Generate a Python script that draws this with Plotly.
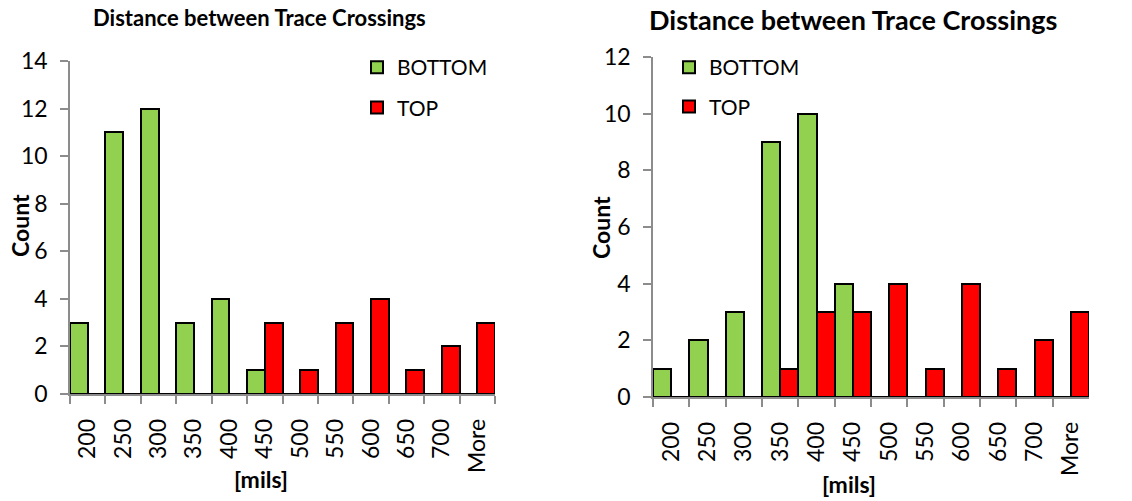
import plotly.graph_objects as go

categories = ["200", "250", "300", "350", "400", "450", "500", "550", "600", "650", "700", "More"]

left_bottom = [3, 11, 12, 3, 4, 1, 0, 0, 0, 0, 0, 0]
left_top = [0, 0, 0, 0, 0, 3, 1, 3, 4, 1, 2, 3]

right_bottom = [1, 2, 3, 9, 10, 4, 0, 0, 0, 0, 0, 0]
right_top = [0, 0, 0, 1, 3, 3, 4, 1, 4, 1, 2, 3]

left_yticks = [0, 2, 4, 6, 8, 10, 12, 14]
right_yticks = [0, 2, 4, 6, 8, 10, 12]

title_text = "Distance between Trace Crossings"
series_names = ["BOTTOM", "TOP"]
colors = ["#92D050", "#FF0000"]

W, H = 1132, 501
FONT = "Lato"
TICK = 23

def px_x(x):
    return x / W

def px_y(y):
    return 1 - y / H

fig = go.Figure()

for i, (name, vals) in enumerate(zip(series_names, [left_bottom, left_top])):
    fig.add_trace(go.Bar(
        x=categories, y=vals, name=name, xaxis="x", yaxis="y",
        marker=dict(color=colors[i], line=dict(color="black", width=2)),
        legend="legend", legendgroup="L" + name,
    ))
for i, (name, vals) in enumerate(zip(series_names, [right_bottom, right_top])):
    fig.add_trace(go.Bar(
        x=categories, y=vals, name=name, xaxis="x2", yaxis="y2",
        marker=dict(color=colors[i], line=dict(color="black", width=2)),
        legend="legend2", legendgroup="R" + name,
    ))

axis_common = dict(
    showgrid=False, zeroline=False, showline=True, linecolor="#8C8C8C", linewidth=1.5,
    ticks="outside", ticklen=8, tickcolor="#8C8C8C", tickwidth=1.5,
    tickfont=dict(family=FONT, size=TICK, color="black"), automargin=False,
)

fig.update_layout(
    width=W, height=H,
    margin=dict(l=0, r=0, t=0, b=0),
    paper_bgcolor="white", plot_bgcolor="white",
    barmode="group", bargap=0, bargroupgap=0,
    xaxis=dict(domain=[px_x(70), px_x(495)], anchor="y", type="category",
               tickson="boundaries", tickangle=-90, ticklabelstandoff=14, **axis_common),
    yaxis=dict(domain=[px_y(394), px_y(61)], anchor="x", range=[0, 14],
               tickvals=left_yticks, ticklabelstandoff=8, **axis_common),
    xaxis2=dict(domain=[px_x(653), px_x(1089)], anchor="y2", type="category",
                tickson="boundaries", tickangle=-90, ticklabelstandoff=14, **axis_common),
    yaxis2=dict(domain=[px_y(397), px_y(57)], anchor="x2", range=[0, 12],
                tickvals=right_yticks, ticklabelstandoff=8, **axis_common),
    legend=dict(x=px_x(357), y=px_y(47), xanchor="left", yanchor="top",
                font=dict(family=FONT, size=21, color="black"),
                bgcolor="rgba(0,0,0,0)", tracegroupgap=10, itemwidth=30),
    legend2=dict(x=px_x(669), y=px_y(47), xanchor="left", yanchor="top",
                 font=dict(family=FONT, size=21, color="black"),
                 bgcolor="rgba(0,0,0,0)", tracegroupgap=9, itemwidth=30),
    showlegend=True,
)

annotations = [
    dict(text="<b>" + title_text + "</b>", x=px_x(259), y=px_y(17), xref="paper", yref="paper",
         showarrow=False, font=dict(family=FONT, size=22, color="black"), xanchor="center", yanchor="middle"),
    dict(text="<b>" + title_text + "</b>", x=px_x(853), y=px_y(19), xref="paper", yref="paper",
         showarrow=False, font=dict(family=FONT, size=27, color="black"), xanchor="center", yanchor="middle"),
    dict(text="<b>Count</b>", x=px_x(20), y=px_y(226), xref="paper", yref="paper", textangle=-90,
         showarrow=False, font=dict(family=FONT, size=23, color="black"), xanchor="center", yanchor="middle"),
    dict(text="<b>Count</b>", x=px_x(601), y=px_y(228), xref="paper", yref="paper", textangle=-90,
         showarrow=False, font=dict(family=FONT, size=23, color="black"), xanchor="center", yanchor="middle"),
    dict(text="<b>[mils]</b>", x=px_x(261), y=px_y(479), xref="paper", yref="paper",
         showarrow=False, font=dict(family=FONT, size=23, color="black"), xanchor="center", yanchor="middle"),
    dict(text="<b>[mils]</b>", x=px_x(849), y=px_y(484), xref="paper", yref="paper",
         showarrow=False, font=dict(family=FONT, size=23, color="black"), xanchor="center", yanchor="middle"),
]
fig.update_layout(annotations=annotations)

fig.write_html("out.html", config={"displayModeBar": False},
               post_script="document.body.style.margin='0';document.body.style.padding='0';")
